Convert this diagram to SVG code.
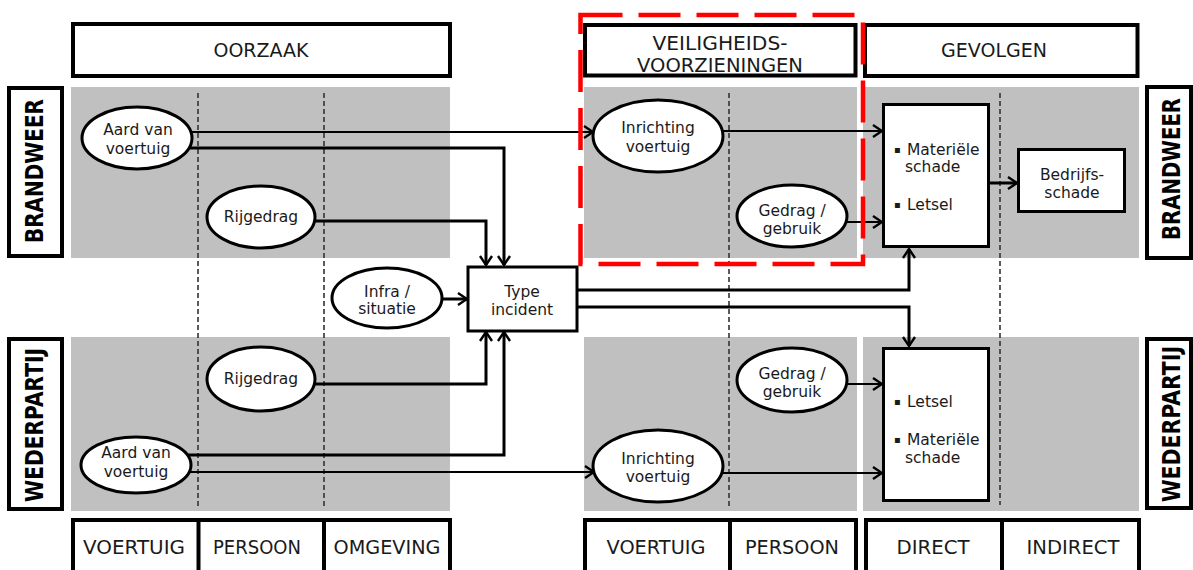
<svg xmlns="http://www.w3.org/2000/svg" width="1193" height="570" viewBox="0 0 1193 570">
<style>
text{font-family:"DejaVu Sans",Verdana,sans-serif;fill:#1a1a1a}
.hdr{font-size:19px;text-anchor:middle}
.lbl{font-size:15.5px;text-anchor:middle}
.side{font-size:24px;font-weight:bold;text-anchor:middle;fill:#000}
.box{fill:#fff;stroke:#000;stroke-width:4}
.nbox{fill:#fff;stroke:#000;stroke-width:3}
.ell{fill:#fff;stroke:#000;stroke-width:3}
.panel{fill:#c0c0c0}
.vdash{stroke:#333;stroke-width:1.6;stroke-dasharray:5 3;fill:none}
.thin{stroke:#000;stroke-width:2;fill:none}
.thick{stroke:#000;stroke-width:3;fill:none}
.bl{font-size:15.5px}
.dot{font-size:10px}
</style>
<defs>
<marker id="arr" markerUnits="userSpaceOnUse" viewBox="-1 -1 12 14" markerWidth="12" markerHeight="14" refX="9" refY="6" orient="auto">
<path d="M0,0 L9,6 L0,12" fill="none" stroke="#000" stroke-width="2.4"/>
</marker>
</defs>

<g id="panels">
<rect class="panel" x="71" y="87" width="379" height="171"/>
<rect class="panel" x="584" y="87" width="273" height="171"/>
<rect class="panel" x="863" y="87" width="276" height="171"/>
<rect class="panel" x="71" y="337" width="379" height="174"/>
<rect class="panel" x="584" y="337" width="273" height="174"/>
<rect class="panel" x="863" y="337" width="276" height="174"/>
<line class="vdash" x1="198" y1="93" x2="198" y2="507"/>
<line class="vdash" x1="324" y1="93" x2="324" y2="507"/>
<line class="vdash" x1="729" y1="93" x2="729" y2="508"/>
<line class="vdash" x1="1000" y1="93" x2="1000" y2="505"/>
</g>

<g id="headers">
<rect class="box" x="73" y="24" width="377" height="52"/>
<text class="hdr" x="261" y="57" textLength="95" lengthAdjust="spacingAndGlyphs">OORZAAK</text>
<rect class="box" x="585" y="25" width="270.5" height="50.5"/>
<text class="hdr" x="720" y="50" textLength="135" lengthAdjust="spacingAndGlyphs">VEILIGHEIDS-</text>
<text class="hdr" x="720" y="72" textLength="166" lengthAdjust="spacingAndGlyphs">VOORZIENINGEN</text>
<rect class="box" x="865" y="25" width="272.5" height="51"/>
<text class="hdr" x="994" y="57" textLength="106" lengthAdjust="spacingAndGlyphs">GEVOLGEN</text>
</g>

<g id="footers">
<rect class="box" x="73" y="520" width="377" height="70"/>
<line x1="198.5" y1="520" x2="198.5" y2="580" stroke="#000" stroke-width="4"/>
<line x1="324" y1="520" x2="324" y2="580" stroke="#000" stroke-width="4"/>
<text class="hdr" x="134" y="554" textLength="102" lengthAdjust="spacingAndGlyphs">VOERTUIG</text>
<text class="hdr" x="257" y="554" textLength="88" lengthAdjust="spacingAndGlyphs">PERSOON</text>
<text class="hdr" x="387" y="554" textLength="107" lengthAdjust="spacingAndGlyphs">OMGEVING</text>
<rect class="box" x="585" y="520" width="271" height="70"/>
<line x1="730" y1="520" x2="730" y2="580" stroke="#000" stroke-width="4"/>
<text class="hdr" x="656" y="554" textLength="99" lengthAdjust="spacingAndGlyphs">VOERTUIG</text>
<text class="hdr" x="792" y="554" textLength="94" lengthAdjust="spacingAndGlyphs">PERSOON</text>
<rect class="box" x="866" y="520" width="273" height="70"/>
<line x1="1002" y1="520" x2="1002" y2="580" stroke="#000" stroke-width="4"/>
<text class="hdr" x="933" y="554" textLength="73" lengthAdjust="spacingAndGlyphs">DIRECT</text>
<text class="hdr" x="1073" y="554" textLength="93" lengthAdjust="spacingAndGlyphs">INDIRECT</text>
</g>

<g id="side-labels">
<rect class="box" x="9" y="88" width="53" height="168"/>
<text class="side" transform="translate(43,171) rotate(-90)" textLength="144" lengthAdjust="spacingAndGlyphs">BRANDWEER</text>
<rect class="box" x="9" y="339" width="53" height="170"/>
<text class="side" transform="translate(43,425) rotate(-90)" textLength="154" lengthAdjust="spacingAndGlyphs">WEDERPARTIJ</text>
<rect class="box" x="1147" y="87" width="44" height="171"/>
<text class="side" transform="translate(1180,169) rotate(-90)" textLength="142" lengthAdjust="spacingAndGlyphs">BRANDWEER</text>
<rect class="box" x="1147" y="339" width="44" height="169"/>
<text class="side" transform="translate(1180,424) rotate(-90)" textLength="156" lengthAdjust="spacingAndGlyphs">WEDERPARTIJ</text>
</g>

<g id="connectors">
<path class="thin" d="M191,132 H593" marker-end="url(#arr)"/>
<path class="thick" d="M189,148 H504 V265" marker-end="url(#arr)"/>
<path class="thick" d="M315,221 H486 V265" marker-end="url(#arr)"/>
<path class="thick" d="M314,384 H486 V332" marker-end="url(#arr)"/>
<path class="thick" d="M188,455 H504 V332" marker-end="url(#arr)"/>
<path class="thin" d="M189,472 H594" marker-end="url(#arr)"/>
<path class="thick" d="M442,299 H467" marker-end="url(#arr)"/>
<path class="thick" d="M578,290 H909 V249" marker-end="url(#arr)"/>
<path class="thick" d="M578,307 H909 V346" marker-end="url(#arr)"/>
<path class="thin" d="M722,131 H882" marker-end="url(#arr)"/>
<path class="thin" d="M846,222 H882" marker-end="url(#arr)"/>
<path class="thick" d="M990,183 H1017" marker-end="url(#arr)"/>
<path class="thin" d="M846,384 H882" marker-end="url(#arr)"/>
<path class="thin" d="M722,473 H882" marker-end="url(#arr)"/>
</g>

<g id="aard-top">
<ellipse class="ell" cx="137" cy="138" rx="55" ry="31"/>
<text class="lbl" x="138" y="135">Aard van</text>
<text class="lbl" x="138" y="154">voertuig</text>
</g>
<g id="rijgedrag-top">
<ellipse class="ell" cx="261" cy="217" rx="54" ry="31"/>
<text class="lbl" x="261" y="222">Rijgedrag</text>
</g>
<g id="infra">
<ellipse class="ell" cx="387" cy="298" rx="55" ry="30"/>
<text class="lbl" x="387" y="297">Infra /</text>
<text class="lbl" x="387" y="314">situatie</text>
</g>
<g id="rijgedrag-bottom">
<ellipse class="ell" cx="261" cy="379" rx="54" ry="32"/>
<text class="lbl" x="261" y="384">Rijgedrag</text>
</g>
<g id="aard-bottom">
<ellipse class="ell" cx="136" cy="465" rx="55" ry="28"/>
<text class="lbl" x="136" y="458">Aard van</text>
<text class="lbl" x="136" y="477">voertuig</text>
</g>
<g id="type-incident">
<rect class="nbox" x="468" y="267" width="109" height="64"/>
<text class="lbl" x="522" y="297">Type</text>
<text class="lbl" x="522" y="315">incident</text>
</g>
<g id="inrichting-top">
<ellipse class="ell" cx="658" cy="136" rx="65" ry="36"/>
<text class="lbl" x="658" y="133">Inrichting</text>
<text class="lbl" x="658" y="152">voertuig</text>
</g>
<g id="gedrag-top">
<ellipse class="ell" cx="792" cy="216" rx="55" ry="31"/>
<text class="lbl" x="792" y="216">Gedrag /</text>
<text class="lbl" x="792" y="234">gebruik</text>
</g>
<g id="gedrag-bottom">
<ellipse class="ell" cx="792" cy="380" rx="55" ry="32"/>
<text class="lbl" x="792" y="379">Gedrag /</text>
<text class="lbl" x="792" y="397">gebruik</text>
</g>
<g id="inrichting-bottom">
<ellipse class="ell" cx="658" cy="466" rx="65" ry="36"/>
<text class="lbl" x="658" y="464">Inrichting</text>
<text class="lbl" x="658" y="482">voertuig</text>
</g>
<g id="gevolgen-top">
<rect class="nbox" x="883.5" y="104.5" width="105" height="142"/>
<text class="bl" x="894" y="153"><tspan class="dot">▪</tspan><tspan x="907" y="155">Materiële</tspan></text>
<text class="bl" x="905" y="172">schade</text>
<text class="bl" x="894" y="208"><tspan class="dot">▪</tspan><tspan x="907" y="210">Letsel</tspan></text>
</g>
<g id="bedrijfsschade">
<rect class="nbox" x="1018.5" y="149.5" width="106" height="62"/>
<text class="lbl" x="1072" y="180">Bedrijfs-</text>
<text class="lbl" x="1072" y="198">schade</text>
</g>
<g id="gevolgen-bottom">
<rect class="nbox" x="883.5" y="348.5" width="105" height="152"/>
<text class="bl" x="894" y="405"><tspan class="dot">▪</tspan><tspan x="907" y="407">Letsel</tspan></text>
<text class="bl" x="894" y="443"><tspan class="dot">▪</tspan><tspan x="907" y="445">Materiële</tspan></text>
<text class="bl" x="905" y="463">schade</text>
</g>

<g id="highlight">
<rect x="580.5" y="15" width="282.5" height="249" fill="none" stroke="#ff0000" stroke-width="4.5" stroke-dasharray="42 16"/>
</g>
</svg>
